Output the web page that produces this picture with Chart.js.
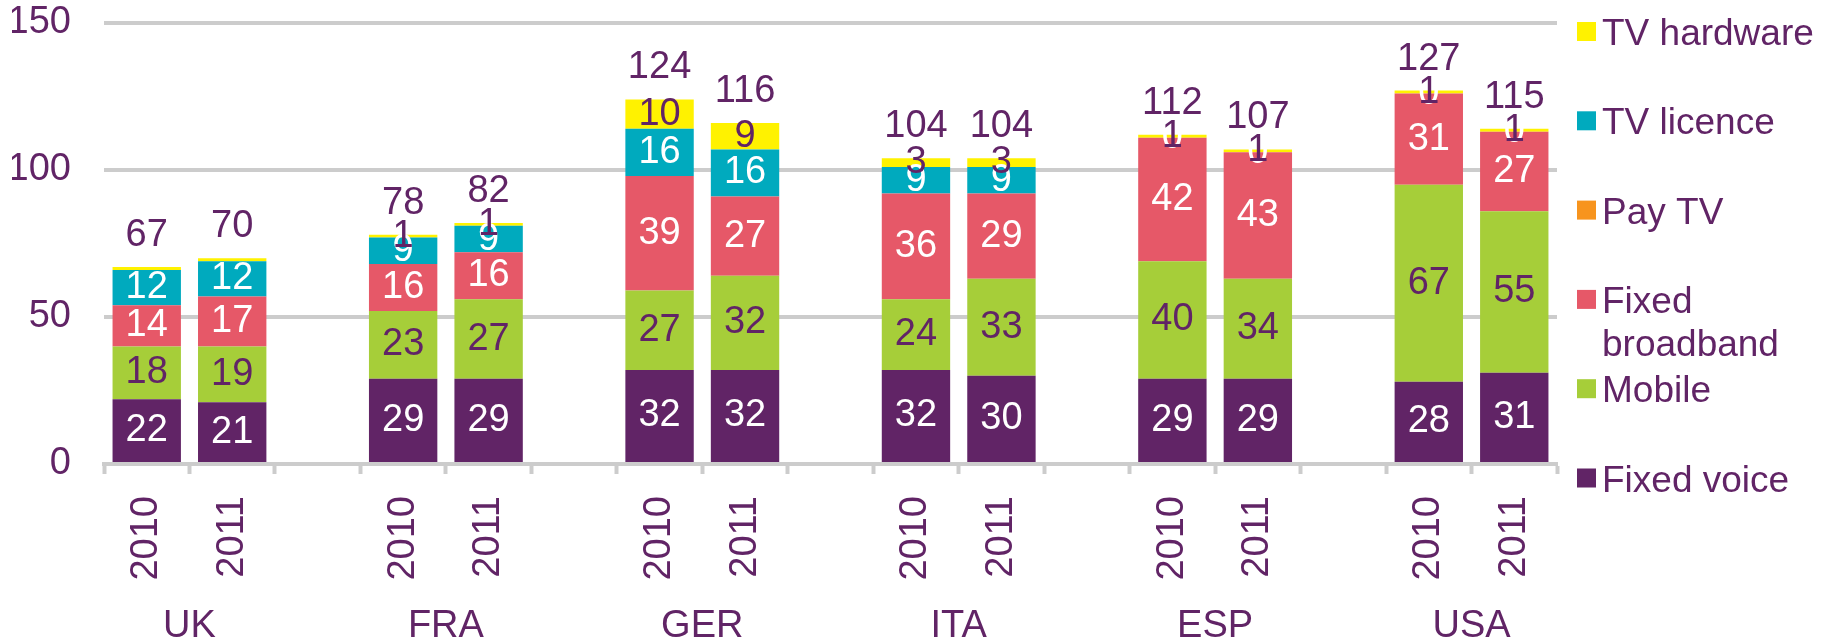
<!DOCTYPE html>
<html>
<head>
<meta charset="utf-8">
<script src="https://cdn.jsdelivr.net/npm/chart.js@4.4.1/dist/chart.umd.min.js"></script>
<style>
  html, body { margin: 0; padding: 0; background: #ffffff; }
  #wrap { width: 1835px; height: 642px; position: relative; }
  canvas { display: block; }
</style>
</head>
<body>
<div id="wrap"><canvas id="chart" width="1835" height="642"></canvas></div>
<script>
// ---------- DATA ----------
const countries = ['UK', 'FRA', 'GER', 'ITA', 'ESP', 'USA'];
const years = ['2010', '2011'];

// one value per bar: UK 2010, UK 2011, FRA 2010, FRA 2011, ...
const fixedVoice     = [22, 21, 29, 29, 32, 32, 32, 30, 29, 29, 28, 31];
const mobile         = [18, 19, 23, 27, 27, 32, 24, 33, 40, 34, 67, 55];
const fixedBroadband = [14, 17, 16, 16, 39, 27, 36, 29, 42, 43, 31, 27];
const payTV          = [null, null, null, null, null, null, null, null, null, null, null, null];
const tvLicence      = [12, 12, 9, 9, 16, 16, 9, 9, 0, 0, 0, 0];
const tvHardware     = [1, 1, 1, 1, 10, 9, 3, 3, 1, 1, 1, 1];
const tvHardwareLabelShown = [false, false, true, true, true, true, true, true, true, true, true, true];
const totals         = [67, 70, 78, 82, 124, 116, 104, 104, 112, 107, 127, 115];

const seriesNames  = ['Fixed voice', 'Mobile', 'Fixed broadband', 'Pay TV', 'TV licence', 'TV hardware'];
const legendLines  = [['Fixed voice'], ['Mobile'], ['Fixed', 'broadband'], ['Pay TV'], ['TV licence'], ['TV hardware']];
const seriesValues = [fixedVoice, mobile, fixedBroadband, payTV, tvLicence, tvHardware];
const yTickValues  = [0, 50, 100, 150];

// ---------- STYLE ----------
const PURPLE = '#612466';
const GRID = '#cccccc';
const FONT = '"Liberation Sans", Arial, Helvetica, sans-serif';
const seriesColors = ['#612466', '#a6ce39', '#e65868', '#f7941e', '#00aabe', '#fff200'];
const labelColors  = ['#ffffff', PURPLE, '#ffffff', '#ffffff', '#ffffff', PURPLE];

// ---------- SLOTS (two bars per country, an empty slot between countries) ----------
const slotLabels = [];
const slotOfBar = [];
countries.forEach((c, ci) => {
  years.forEach((y) => { slotOfBar.push(slotLabels.length); slotLabels.push(y); });
  if (ci < countries.length - 1) slotLabels.push('');
});
function toSlots(arr) {
  const out = slotLabels.map(() => null);
  arr.forEach((v, i) => { out[slotOfBar[i]] = v; });
  return out;
}
const barOfSlot = slotLabels.map(() => -1);
slotOfBar.forEach((s, b) => { barOfSlot[s] = b; });

const datasets = seriesNames.map((name, si) => ({
  label: name,
  data: toSlots(seriesValues[si]),
  backgroundColor: seriesColors[si],
  borderWidth: 0,
  stack: 's',
  barPercentage: 0.8,
  categoryPercentage: 1.0,
  labelColor: labelColors[si]
}));

// ---------- PLUGINS ----------
const segmentLabels = {
  id: 'segmentLabels',
  afterDatasetsDraw(chart) {
    const ctx = chart.ctx;
    ctx.save();
    ctx.font = '38px ' + FONT;
    ctx.textAlign = 'center';
    ctx.textBaseline = 'middle';
    chart.data.datasets.forEach((ds, di) => {
      const meta = chart.getDatasetMeta(di);
      meta.data.forEach((el, i) => {
        const v = ds.data[i];
        if (v === null || v === undefined) return;
        const b = barOfSlot[i];
        if (di === 5 && !tvHardwareLabelShown[b]) return;
        const p = el.getProps(['x', 'y', 'base'], true);
        ctx.fillStyle = ds.labelColor;
        ctx.fillText(String(v), p.x, (p.y + p.base) / 2);
      });
    });
    // totals above each stack
    const xs = chart.scales.x, ys = chart.scales.y;
    ctx.fillStyle = PURPLE;
    ctx.textBaseline = 'alphabetic';
    totals.forEach((t, b) => {
      const slot = slotOfBar[b];
      let sum = 0;
      chart.data.datasets.forEach(ds => { sum += ds.data[slot] || 0; });
      ctx.fillText(String(t), xs.getPixelForValue(slot), ys.getPixelForValue(sum) - 21);
    });
    ctx.restore();
  }
};

const groupLabels = {
  id: 'groupLabels',
  afterDraw(chart) {
    const ctx = chart.ctx;
    const xs = chart.scales.x;
    ctx.save();
    ctx.font = '38px ' + FONT;
    ctx.fillStyle = PURPLE;
    ctx.textAlign = 'center';
    ctx.textBaseline = 'alphabetic';
    countries.forEach((c, ci) => {
      const a = xs.getPixelForValue(slotOfBar[ci * 2]);
      const b = xs.getPixelForValue(slotOfBar[ci * 2 + 1]);
      ctx.fillText(c, (a + b) / 2, 637);
    });
    ctx.restore();
  }
};

const sideLegend = {
  id: 'sideLegend',
  afterDraw(chart) {
    const ctx = chart.ctx;
    ctx.save();
    ctx.font = '37px ' + FONT;
    ctx.textAlign = 'left';
    ctx.textBaseline = 'alphabetic';
    const order = [5, 4, 3, 2, 1, 0];
    order.forEach((si, k) => {
      const cy = 31.5 + k * 89.3;
      ctx.fillStyle = seriesColors[si];
      ctx.fillRect(1577, cy - 9.5, 19, 19);
      ctx.fillStyle = PURPLE;
      legendLines[si].forEach((line, li) => {
        ctx.fillText(line, 1602, cy + 13.5 + li * 43);
      });
    });
    ctx.restore();
  }
};

// ---------- CHART ----------
Chart.defaults.font.family = FONT;
Chart.defaults.font.size = 38;
Chart.defaults.color = PURPLE;

new Chart(document.getElementById('chart'), {
  type: 'bar',
  data: { labels: slotLabels, datasets },
  options: {
    responsive: false,
    animation: false,
    devicePixelRatio: 1,
    layout: { padding: { left: 12, right: 278, top: 23, bottom: 0 } },
    plugins: {
      legend: { display: false },
      tooltip: { enabled: false }
    },
    scales: {
      x: {
        stacked: true,
        offset: true,
        grid: {
          display: true,
          drawOnChartArea: false,
          drawTicks: true,
          tickLength: 10,
          tickWidth: 4,
          tickColor: GRID,
          offset: true
        },
        border: { display: true, color: GRID, width: 4 },
        ticks: {
          autoSkip: false,
          minRotation: 90,
          maxRotation: 90,
          padding: 22,
          color: PURPLE,
          font: { size: 38 }
        },
        afterFit(scale) {
          scale.height = 178;
          scale.paddingLeft = 0; scale.paddingRight = 0;
          scale.paddingTop = 0; scale.paddingBottom = 0;
        }
      },
      y: {
        stacked: true,
        min: 0,
        max: 150,
        afterBuildTicks(scale) { scale.ticks = yTickValues.map(v => ({ value: v })); },
        grid: { color: GRID, lineWidth: 4, drawTicks: false },
        border: { display: false },
        ticks: { padding: 33, color: PURPLE, font: { size: 38 } },
        afterFit(scale) {
          scale.width = 92;
          scale.paddingTop = 0; scale.paddingBottom = 0;
          scale.paddingLeft = 0; scale.paddingRight = 0;
        }
      }
    }
  },
  plugins: [segmentLabels, groupLabels, sideLegend]
});
</script>
</body>
</html>
